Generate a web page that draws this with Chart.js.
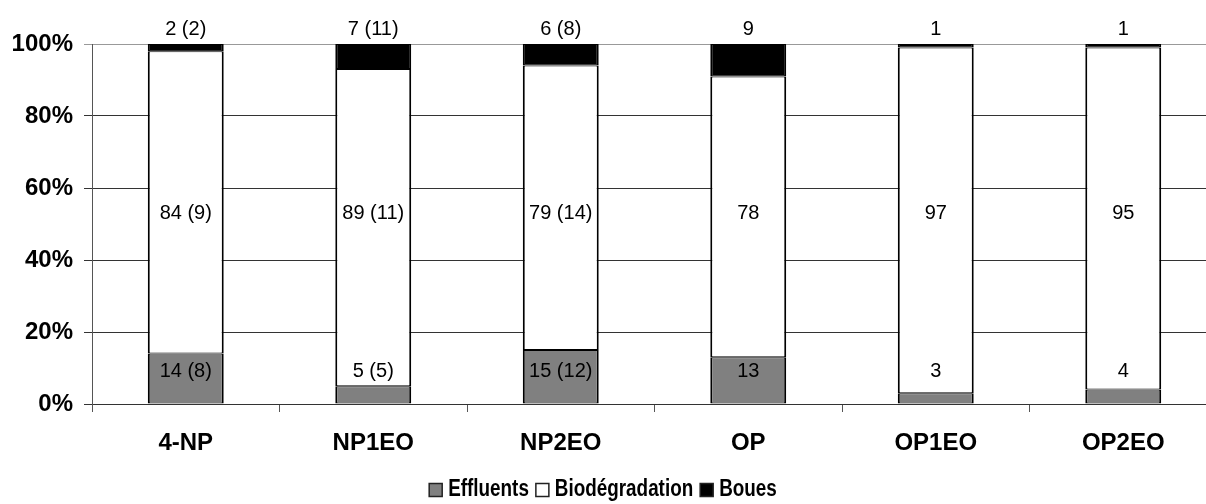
<!DOCTYPE html>
<html>
<head>
<meta charset="utf-8">
<script src="https://cdn.jsdelivr.net/npm/chart.js@4/dist/chart.umd.min.js"></script>
<style>
html, body { margin: 0; padding: 0; background: #fff; overflow: hidden; }
#wrap { width: 1217px; height: 504px; }
</style>
</head>
<body>
<div id="wrap"><canvas id="chart" width="1217" height="504"></canvas></div>
<script>
const categories = ['4-NP', 'NP1EO', 'NP2EO', 'OP', 'OP1EO', 'OP2EO'];
const effluents = [14, 5, 15, 13, 3, 4];
const effluentsSd = [8, 5, 12, null, null, null];
const biodegradation = [84, 89, 79, 78, 97, 95];
const biodegradationSd = [9, 11, 14, null, null, null];
const boues = [2, 7, 6, 9, 1, 1];
const bouesSd = [2, 11, 8, null, null, null];
const yTicks = [0, 20, 40, 60, 80, 100];

const FONT = '"Liberation Sans", Arial, sans-serif';

// 100% stacked: each column is scaled to its own total
const totals = categories.map((c, i) => effluents[i] + biodegradation[i] + boues[i]);
const pct = arr => arr.map((v, i) => v / totals[i] * 100);

function labelText(v, sd) {
    return sd === null ? String(v) : v + ' (' + sd + ')';
}

const segmentLabels = {
    id: 'segmentLabels',
    afterDatasetsDraw(chart) {
        const ctx = chart.ctx;
        const x = chart.scales.x, y = chart.scales.y;
        ctx.save();
        ctx.font = '20px ' + FONT;
        ctx.fillStyle = '#000';
        ctx.textAlign = 'center';
        ctx.textBaseline = 'middle';
        categories.forEach((c, i) => {
            const cx = x.getPixelForValue(i);
            ctx.fillText(labelText(effluents[i], effluentsSd[i]), cx, y.getPixelForValue(9));
            ctx.fillText(labelText(biodegradation[i], biodegradationSd[i]), cx, y.getPixelForValue(53));
            ctx.fillText(labelText(boues[i], bouesSd[i]), cx, y.getPixelForValue(100) - 15);
        });
        ctx.restore();
    }
};

// legend text in the original is tall but narrow, so squeeze it a bit
const squeezedLegend = {
    id: 'squeezedLegend',
    afterDraw(chart) {
        const ctx = chart.ctx;
        const sx = 0.82, box = 13, gapText = 6, gapItem = 7, cy = 490;
        ctx.save();
        ctx.font = 'bold 23px ' + FONT;
        const items = chart.data.datasets.map(ds => ({
            text: ds.label,
            fill: ds.backgroundColor,
            w: ctx.measureText(ds.label).width * sx
        }));
        const total = items.reduce((s, it) => s + box + gapText + it.w, 0) + gapItem * (items.length - 1);
        let x = 603 - total / 2;
        items.forEach(it => {
            ctx.fillStyle = it.fill;
            ctx.fillRect(x, cy - box / 2, box, box);
            ctx.strokeStyle = '#222';
            ctx.lineWidth = 1.5;
            ctx.strokeRect(x, cy - box / 2, box, box);
            x += box + gapText;
            ctx.save();
            ctx.translate(x, cy);
            ctx.scale(sx, 1);
            ctx.fillStyle = '#000';
            ctx.textAlign = 'left';
            ctx.textBaseline = 'middle';
            ctx.fillText(it.text, 0, 0);
            ctx.restore();
            x += it.w + gapItem;
        });
        ctx.restore();
    }
};

const barStyle = {
    borderColor: '#000',
    borderWidth: { left: 2, right: 2, top: 1, bottom: 1 },
    borderSkipped: false,
    barPercentage: 0.405,
    categoryPercentage: 1.0
};

new Chart(document.getElementById('chart'), {
    type: 'bar',
    data: {
        labels: categories,
        datasets: [
            Object.assign({ label: 'Effluents', data: pct(effluents), backgroundColor: '#808080' }, barStyle),
            Object.assign({ label: 'Biodégradation', data: pct(biodegradation), backgroundColor: '#ffffff' }, barStyle),
            Object.assign({ label: 'Boues', data: pct(boues), backgroundColor: '#000000' }, barStyle)
        ]
    },
    options: {
        responsive: false,
        animation: false,
        devicePixelRatio: 1,
        layout: { padding: { top: 44, left: 0, right: 0, bottom: 0 } },
        scales: {
            x: {
                stacked: true,
                grid: { offset: true, drawOnChartArea: false, tickLength: 8, color: '#555' },
                border: { color: '#333', width: 1 },
                ticks: {
                    color: '#000',
                    padding: 17,
                    font: { family: FONT, size: 24, weight: 'bold' }
                },
                afterFit: s => { s.height = 100; }
            },
            y: {
                stacked: true,
                min: 0,
                max: 100,
                afterBuildTicks: s => { s.ticks = yTicks.map(v => ({ value: v })); },
                grid: {
                    tickLength: 8,
                    color: c => (c.tick && c.tick.value === 100) ? '#999' : '#333'
                },
                border: { color: '#555', width: 1 },
                ticks: {
                    color: '#000',
                    padding: 11,
                    font: { family: FONT, size: 24, weight: 'bold' },
                    callback: v => v + '%'
                },
                afterFit: s => { s.width = 92; }
            }
        },
        plugins: {
            legend: { display: false },
            tooltip: { enabled: false }
        }
    },
    plugins: [segmentLabels, squeezedLegend]
});
</script>
</body>
</html>
